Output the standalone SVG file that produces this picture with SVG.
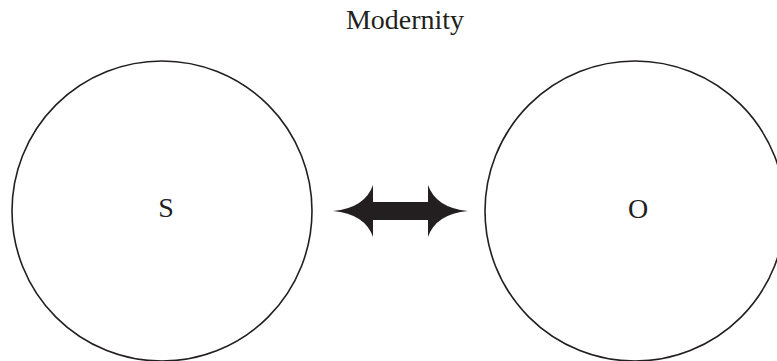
<svg xmlns="http://www.w3.org/2000/svg" width="777" height="361" viewBox="0 0 777 361">
<style>
.node circle{fill:none;stroke:#231f20;stroke-width:1.6}
.lbl{font-family:"Liberation Serif","Times New Roman",serif;font-size:28px;fill:#231f20;text-anchor:middle}
.arrow{fill:#231f20;stroke:none}
</style>
<rect width="777" height="361" fill="#ffffff"/>
<text class="lbl" x="405" y="29">Modernity</text>
<g id="node-S" class="node">
<circle cx="162" cy="211" r="150"/>
<text class="lbl" x="166" y="217">S</text>
</g>
<g id="node-O" class="node">
<circle cx="635" cy="211" r="150"/>
<text class="lbl" x="638" y="218">O</text>
</g>
<g id="connectors">
<path class="arrow" d="M333,211 Q365,208 373,185 L373,202 L428,202 L428,185 Q436,208 468,211 Q436,214 428,237 L428,220 L373,220 L373,237 Q365,214 333,211 Z"/>
</g>
</svg>
